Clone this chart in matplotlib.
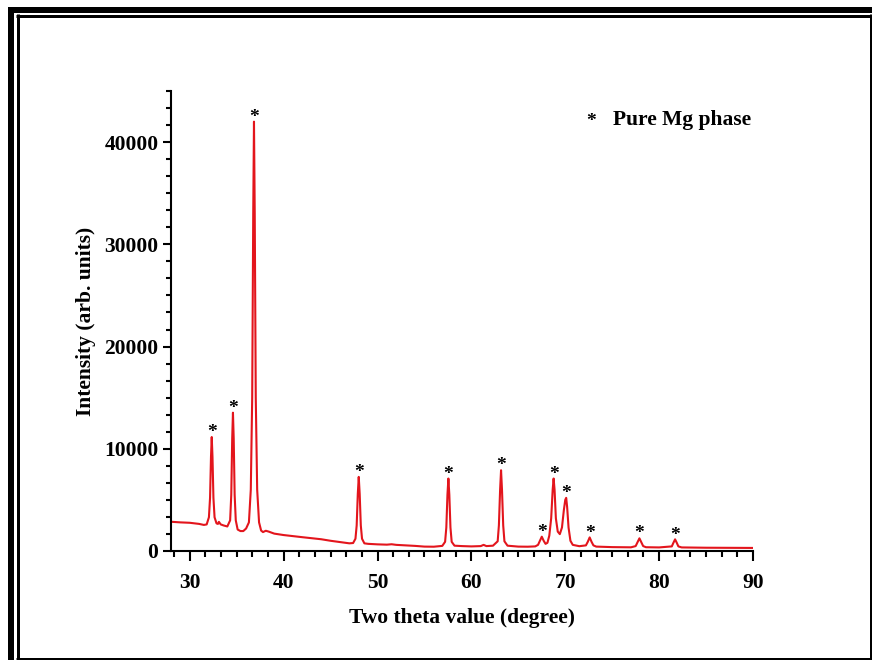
import matplotlib
matplotlib.use("Agg")
import matplotlib.pyplot as plt
from matplotlib.ticker import MultipleLocator
from matplotlib.lines import Line2D

# ---- data ----
two_theta = [28.0, 29.0, 30.0, 31.0, 31.5, 31.8,
             32.04, 32.16, 32.26, 32.34, 32.42, 32.52, 32.64, 32.85,
             33.0, 33.1, 33.3, 33.6, 34.0,
             34.3, 34.42, 34.52, 34.6, 34.68, 34.78, 34.9, 35.1,
             35.4, 35.7, 36.0,
             36.3, 36.5, 36.65, 36.76, 36.84, 36.92, 37.03, 37.18, 37.38, 37.6,
             37.8, 38.1, 38.4, 39.0, 40.0, 41.0, 42.0, 43.0, 44.0, 45.0, 46.0, 47.0, 47.4,
             47.65, 47.78, 47.9, 48.0, 48.1, 48.22, 48.35, 48.6,
             49.0, 50.0, 51.0, 51.5, 52.0, 53.0, 54.0, 55.0, 56.0, 56.9,
             57.2, 57.33, 57.45, 57.55, 57.65, 57.77, 57.9, 58.2,
             59.0, 60.0, 61.0, 61.3, 61.6, 62.3,
             62.8, 62.93, 63.06, 63.16, 63.26, 63.39, 63.52, 63.85,
             65.0, 66.0, 66.8,
             67.1, 67.3, 67.5, 67.7, 67.9, 68.1,
             68.3, 68.5, 68.66, 68.76, 68.86, 69.0, 69.2, 69.42,
             69.65, 69.85, 70.0, 70.1, 70.2, 70.35, 70.55, 70.8,
             71.5, 72.2, 72.4, 72.6, 72.8, 73.0, 73.3,
             75.0, 77.0, 77.5, 77.7, 77.9, 78.1, 78.3, 78.6,
             80.0, 81.35, 81.52, 81.7, 81.88, 82.05, 82.4,
             85.0, 88.0, 90.0]
intensity = [2860, 2800, 2760, 2650, 2550, 2600,
             3300, 5200, 9200, 11150, 9200, 5200, 3300, 2700,
             2650, 2850, 2600, 2500, 2400,
             3000, 5500, 11000, 13530, 11000, 5500, 3000, 2100,
             1950, 1950, 2200,
             2800, 6000, 15000, 33000, 42000, 33000, 15000, 6000, 2800, 2000,
             1850, 1980, 1900, 1700, 1560, 1450, 1350, 1250, 1150, 1000, 870, 750, 780,
             1200, 2500, 5600, 7250, 5600, 2500, 1200, 750,
             700, 650, 620, 660, 600, 550, 500, 430, 420, 500,
             900, 2300, 5500, 7090, 5500, 2300, 900, 520,
             480, 450, 480, 600, 480, 520,
             950, 2500, 6000, 7900, 6000, 2500, 950, 520,
             430, 420, 450,
             600, 1000, 1400, 1000, 700, 800,
             1500, 3200, 6000, 7090, 6000, 3200, 1900, 1650,
             2300, 4000, 5000, 5200, 4300, 2300, 1000, 600,
             470, 550, 900, 1330, 900, 550, 430,
             380, 360, 480, 850, 1240, 850, 480, 370,
             350, 450, 800, 1140, 800, 450, 350,
             320, 310, 300]

peak_pos = [32.34, 34.6, 36.84, 48.0, 57.55, 63.16, 67.5, 68.76, 70.1, 72.6, 77.9, 81.7]
peak_int = [11150, 13530, 42000, 7250, 7090, 7900, 1400, 7090, 5200, 1330, 1240, 1140]

x_ticks = [30, 40, 50, 60, 70, 80, 90]
y_ticks = [0, 10000, 20000, 30000, 40000]

FONT = "Liberation Serif"

fig = plt.figure(figsize=(8.72, 6.60), dpi=100)
ax = fig.add_axes([171/872, 109/660, 582/872, 460/660])

ax.plot(two_theta, intensity, color="#E3151C", lw=1.5)

for px, py in zip(peak_pos, peak_int):
    ax.annotate("*", (px, py), xytext=(0, -3), textcoords="offset points",
                ha="center", va="bottom", fontsize=14, fontweight="bold",
                family=FONT)

ax.set_xlim(28, 90)
ax.set_ylim(0, 45000)
ax.set_xticks(x_ticks)
ax.set_yticks(y_ticks)
ax.xaxis.set_minor_locator(MultipleLocator(10/6))
ax.yaxis.set_minor_locator(MultipleLocator(10000/6))

for s in ["top", "right"]:
    ax.spines[s].set_visible(False)
for s in ["left", "bottom"]:
    ax.spines[s].set_linewidth(1.5)

ax.tick_params(axis="x", which="major", direction="out", length=7.5, width=1.5, pad=8)
ax.tick_params(axis="x", which="minor", direction="out", length=4.5, width=1.5)
ax.tick_params(axis="y", which="major", direction="out", length=6, width=1.5, pad=3)
ax.tick_params(axis="y", which="minor", direction="out", length=3.5, width=1.5)

for lab in ax.get_xticklabels() + ax.get_yticklabels():
    lab.set_fontfamily(FONT)
    lab.set_fontweight("bold")
    lab.set_fontsize(15.5)

ax.set_xlabel("Two theta value (degree)", fontfamily=FONT, fontweight="bold",
              fontsize=15.5, labelpad=11)
ax.set_ylabel("Intensity (arb. units)", fontfamily=FONT, fontweight="bold",
              fontsize=15.5, labelpad=6)

ax.text(591/872, (660-122)/660, "*", transform=fig.transFigure, ha="center", va="center",
        fontsize=14, fontweight="bold", family=FONT)
ax.text(613/872, (660-120)/660, "Pure Mg phase", transform=fig.transFigure, ha="left",
        va="center", fontsize=15.5, fontweight="bold", family=FONT)

# double frame
W, H = 872, 660
def fline(x0, y0, x1, y1, lw):
    fig.add_artist(Line2D([x0/W, x1/W], [1 - y0/H, 1 - y1/H], transform=fig.transFigure,
                          color="black", lw=lw, solid_capstyle="butt"))
# outer (thick)
fline(11, 7, 11, 660, 6*0.72)
fline(8, 10, 872, 10, 6*0.72)
# inner (thin)
fline(17.5, 14, 17.5, 660, 3*0.72)
fline(16, 15.5, 872, 15.5, 3*0.72)
fline(870.5, 14, 870.5, 660, 3*0.72)
fline(16, 658.5, 872, 658.5, 3*0.72)

fig.savefig("out.png", dpi=100)
